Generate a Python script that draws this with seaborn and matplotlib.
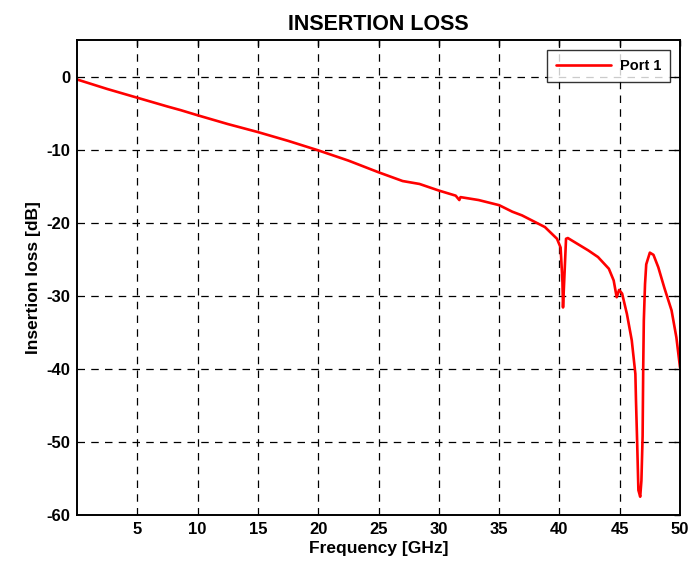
import matplotlib
matplotlib.use('Agg')
import matplotlib.pyplot as plt
import seaborn as sns
import pandas as pd

# frequency points (GHz)
freq = [0.0, 2.5, 5.0, 7.5, 8.6, 10.0, 12.5, 15.0, 17.5, 20.0, 22.5, 25.0,
        27.0, 28.4, 30.0, 31.4, 31.7, 31.8, 33.3, 35.0, 36.1, 36.9, 38.8,
        39.8, 40.1, 40.25, 40.3, 40.4, 40.55, 40.7, 42.4, 43.2, 44.1, 44.5,
        44.75, 44.95, 45.2, 45.6, 46.0, 46.3, 46.35, 46.45, 46.55, 46.7,
        46.8, 46.9, 46.95, 47.0, 47.1, 47.2, 47.5, 47.8, 48.2, 48.7, 49.3,
        49.7, 50.0]
# port 1 insertion loss (dB)
loss = [-0.4, -1.7, -2.9, -4.1, -4.6, -5.3, -6.5, -7.6, -8.8, -10.1, -11.5,
        -13.1, -14.3, -14.7, -15.6, -16.3, -16.9, -16.5, -16.9, -17.6, -18.5,
        -19.0, -20.6, -22.2, -23.4, -28.0, -31.6, -27.9, -22.2, -22.1, -23.8,
        -24.7, -26.3, -27.9, -30.2, -29.2, -29.7, -32.5, -36.1, -40.7, -44.3,
        -50.2, -56.6, -57.5, -55.3, -49.2, -39.8, -33.4, -28.4, -25.7, -24.1,
        -24.4, -26.1, -28.9, -32.0, -35.7, -39.8]

xticks = [5, 10, 15, 20, 25, 30, 35, 40, 45, 50]
yticks = [-60, -50, -40, -30, -20, -10, 0]

df = pd.DataFrame({'Frequency': freq, 'Loss': loss, 'Port': 'Port 1'})

sns.set_style('white')
plt.rcParams['font.family'] = ['Liberation Sans', 'DejaVu Sans']
plt.rcParams['font.weight'] = 'bold'
plt.rcParams['axes.unicode_minus'] = False
plt.rcParams['text.color'] = 'black'
plt.rcParams['axes.labelcolor'] = 'black'
plt.rcParams['xtick.color'] = 'black'
plt.rcParams['ytick.color'] = 'black'

fig = plt.figure(figsize=(6.88, 5.62), dpi=100)
ax = fig.add_axes([77 / 688, 1 - 515 / 562, 603 / 688, 475 / 562])

sns.lineplot(data=df, x='Frequency', y='Loss', hue='Port', palette=['#ff0000'],
             linewidth=1.9, sort=False, estimator=None, ax=ax)

ax.set_xlim(0, 50)
ax.set_ylim(-60, 5)
ax.set_xticks(xticks)
ax.set_yticks(yticks)
ax.grid(True, color='black', linestyle=(0, (6, 5)), linewidth=0.9)
ax.tick_params(direction='in', length=4, width=1, top=True, right=True,
               labelsize=12, pad=5)
for lab in ax.get_xticklabels() + ax.get_yticklabels():
    lab.set_fontweight('bold')
for s in ax.spines.values():
    s.set_color('black')
    s.set_linewidth(1.4)

ax.set_xlabel('Frequency [GHz]', fontsize=12.5, fontweight='bold', labelpad=3)
ax.set_ylabel('Insertion loss [dB]', fontsize=12.5, fontweight='bold', labelpad=4)
ax.set_title('INSERTION LOSS', fontsize=15.5, fontweight='bold', pad=7)

leg = ax.legend(loc='upper right', frameon=True, fancybox=False,
                edgecolor='black', borderaxespad=0.7, borderpad=0.6,
                handlelength=3.8, handletextpad=0.6,
                prop={'weight': 'bold', 'size': 10.5})
leg.get_frame().set_linewidth(1.0)

fig.savefig('out.png', dpi=100)
